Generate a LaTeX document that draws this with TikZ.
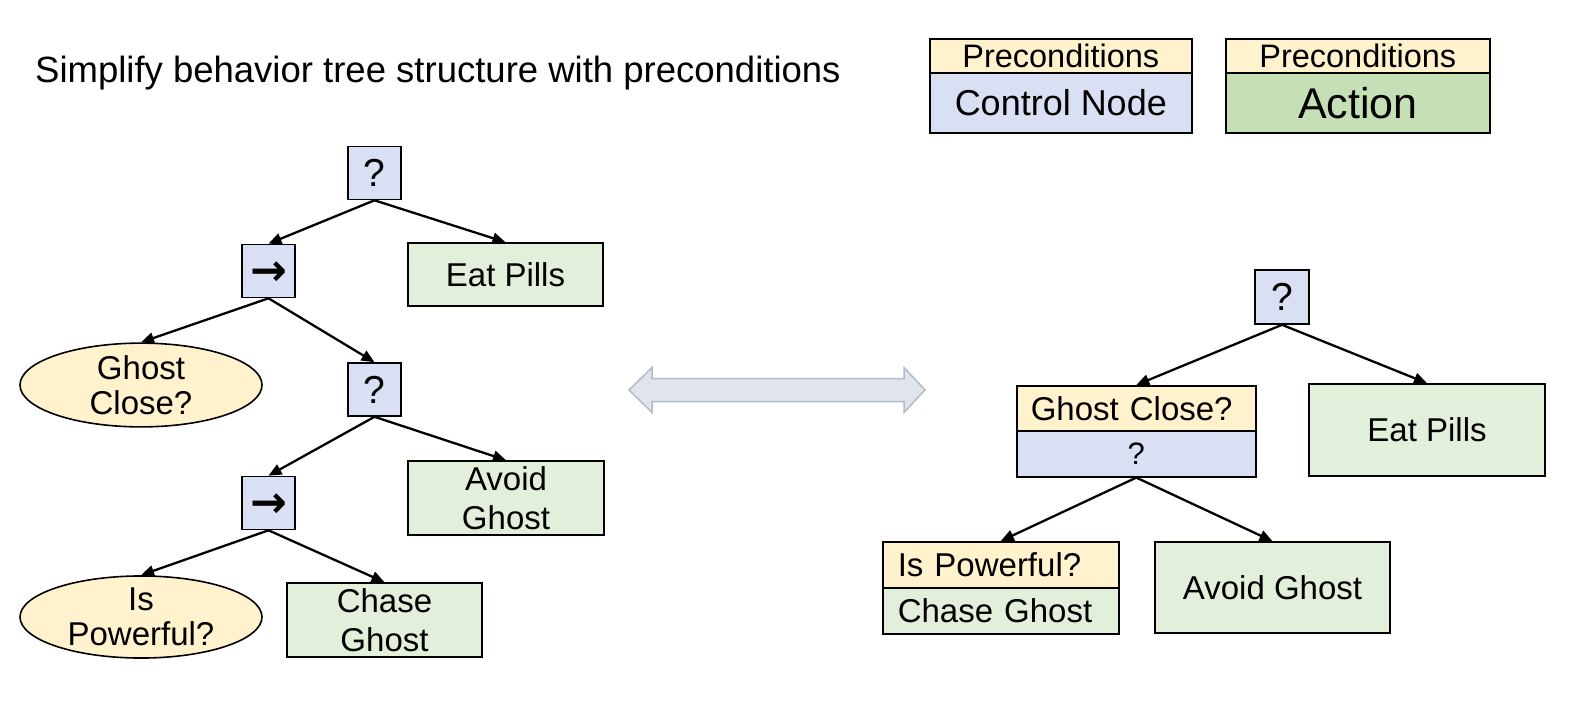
\documentclass[tikz,border=0pt]{standalone}
\usepackage{fontspec}
\setmainfont{Liberation Sans}
\newfontfamily\symfont{DejaVu Sans}
\usetikzlibrary{shapes.geometric,arrows.meta}
\definecolor{ctrlc}{HTML}{DAE0F3}
\definecolor{condc}{HTML}{FFF2CC}
\definecolor{actc}{HTML}{E2EFDA}
\definecolor{actleg}{HTML}{C5E0B4}
\definecolor{arrfill}{HTML}{DFE4ED}
\definecolor{arrbd}{HTML}{B3BBCA}
\begin{document}
\begin{tikzpicture}[x=1pt,y=-1pt,
  box/.style={draw=black,line width=1.6pt,inner sep=0pt},
  ctrl/.style={box,fill=ctrlc,minimum width=53pt,minimum height=53pt},
  actbox/.style={box,fill=actc,align=center},
  cond/.style={ellipse,draw=black,line width=1.6pt,fill=condc,inner sep=0pt,align=center,minimum width=242pt,minimum height=74pt},
  hdr/.style={box,fill=condc},
  link/.style={line width=2.3pt,-{Triangle[length=13pt,width=11pt]}},
  txt/.style={font=\fontsize{33}{39}\selectfont},
  etxt/.style={font=\fontsize{33}{35}\selectfont},
  qtxt/.style={font=\fontsize{39}{42}\selectfont},
  atxt/.style={font=\symfont\bfseries\fontsize{44}{46}\selectfont,text height=28pt,text depth=0pt},
]
\fill[white] (0,0) rectangle (1581,701);
\useasboundingbox (0,0) rectangle (1581,701);

% title
\node[anchor=base west,inner sep=0pt,font=\fontsize{36.5}{40}\selectfont] (title) at (35,82) {Simplify behavior tree structure with preconditions};

% legend
\node[hdr,anchor=north west,minimum width=262pt,minimum height=34pt,font=\fontsize{32.5}{36}\selectfont] (lg1h) at (929,38) {Preconditions};
\node[box,fill=ctrlc,anchor=north west,minimum width=262pt,minimum height=60pt,font=\fontsize{36}{40}\selectfont] (lg1b) at (929,72) {Control Node};
\node[hdr,anchor=north west,minimum width=264pt,minimum height=34pt,font=\fontsize{32.5}{36}\selectfont] (lg2h) at (1225,38) {Preconditions};
\node[box,fill=actleg,anchor=north west,minimum width=264pt,minimum height=60pt,font=\fontsize{43}{46}\selectfont] (lg2b) at (1225,72) {Action};

% left tree
\node[ctrl,qtxt] (r1) at (374.5,173) {?};
\node[ctrl,atxt] (s1) at (268.5,271) {→};
\node[actbox,txt,minimum width=195pt,minimum height=63pt] (ep1) at (505.5,274.5) {Eat Pills};
\node[cond,etxt] (gc1) at (141,385) {Ghost\\Close?};
\node[ctrl,qtxt] (f2) at (374.5,389.5) {?};
\node[actbox,txt,minimum width=196pt,minimum height=74pt] (ag1) at (506,498) {Avoid\\Ghost};
\node[ctrl,atxt] (s2) at (268.5,503) {→};
\node[cond,etxt] (ip1) at (141,617) {Is\\Powerful?};
\node[actbox,txt,minimum width=195pt,minimum height=74pt] (cg1) at (384.5,620) {Chase\\Ghost};

\draw[link] (r1.south) -- (s1.north);
\draw[link] (r1.south) -- (ep1.north);
\draw[link] (s1.south) -- (gc1.north);
\draw[link] (s1.south) -- (f2.north);
\draw[link] (f2.south) -- (s2.north);
\draw[link] (f2.south) -- (ag1.north);
\draw[link] (s2.south) -- (ip1.north);
\draw[link] (s2.south) -- (cg1.north);

% double arrow
\draw[draw=arrbd,fill=arrfill,line width=1.5pt,line join=miter]
  (629,390) -- (652,367.5) -- (652,378.5) -- (904,378.5) -- (904,367.5) -- (925,390)
  -- (904,412.5) -- (904,401.5) -- (652,401.5) -- (652,412.5) -- cycle;

% right tree
\node[ctrl,qtxt,minimum width=54pt,minimum height=54pt] (r2) at (1282,297) {?};
\node[hdr,txt,anchor=north west,minimum height=45pt,inner xsep=14pt,text width=211pt,align=left] (gc2h) at (1016,385) {Ghost Close?};
\node[box,fill=ctrlc,anchor=north west,minimum width=239pt,minimum height=46pt,font=\fontsize{31}{34}\selectfont] (gc2b) at (1016,430) {?};
\node[actbox,txt,minimum width=236pt,minimum height=92pt] (ep2) at (1427,430) {Eat Pills};
\node[hdr,txt,anchor=north west,minimum height=46pt,inner xsep=15pt,text width=206pt,align=left] (ip2h) at (882,541) {Is Powerful?};
\node[actbox,txt,anchor=north west,minimum height=46pt,inner xsep=15pt,text width=206pt,align=left] (ip2b) at (882,587) {Chase Ghost};
\node[actbox,txt,minimum width=235pt,minimum height=91pt] (ag2) at (1272.5,587.5) {Avoid Ghost};

\draw[link] (r2.south) -- (gc2h.north);
\draw[link] (r2.south) -- (ep2.north);
\draw[link] (gc2b.south) -- (ip2h.north);
\draw[link] (gc2b.south) -- (ag2.north);
\end{tikzpicture}
\end{document}
